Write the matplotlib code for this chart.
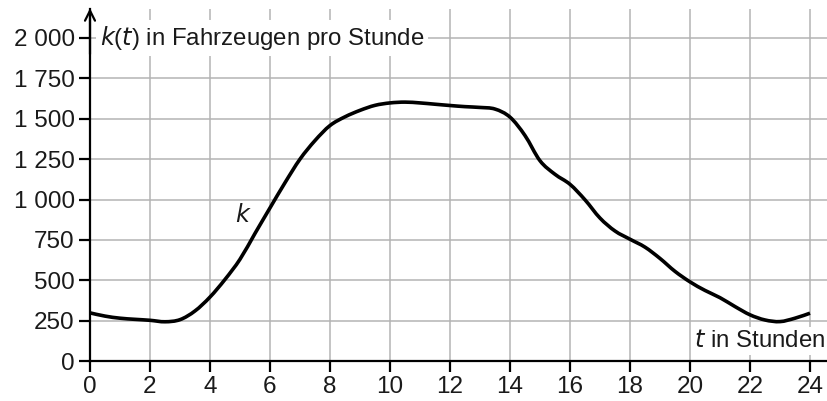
import matplotlib.pyplot as plt
from matplotlib.path import Path
from matplotlib.patches import PathPatch

# data
t_vals = [0, 0.5, 1, 1.5, 2, 2.5, 3, 3.5, 4, 4.5, 5, 5.5, 6, 6.5, 7, 7.5, 8, 8.5,
          9, 9.5, 10, 10.5, 11, 11.5, 12, 12.5, 13, 13.5, 14, 14.5, 15, 15.5, 16,
          16.5, 17, 17.5, 18, 18.5, 19, 19.5, 20, 20.5, 21, 21.5, 22, 22.5, 23,
          23.5, 24]
k_vals = [298, 278, 265, 258, 252, 243, 256, 310, 396, 505, 630, 790, 948, 1104,
          1250, 1365, 1458, 1512, 1552, 1583, 1598, 1603, 1598, 1590, 1582, 1575,
          1570, 1560, 1510, 1396, 1240, 1156, 1094, 998, 885, 805, 754, 705, 635,
          555, 490, 437, 392, 337, 286, 254, 244, 265, 296]
x_ticks = list(range(0, 25, 2))
y_ticks = [0, 250, 500, 750, 1000, 1250, 1500, 1750, 2000]
y_labels = ['0', '250', '500', '750', '1 000', '1 250', '1 500', '1 750', '2 000']


def smooth_path(xs, ys):
    # bezier segments through the points (catmull-rom tangents)
    verts = [(xs[0], ys[0])]
    codes = [Path.MOVETO]
    n = len(xs)
    for i in range(n - 1):
        x0, y0 = (xs[i - 1], ys[i - 1]) if i > 0 else (xs[i], ys[i])
        x1, y1 = xs[i], ys[i]
        x2, y2 = xs[i + 1], ys[i + 1]
        x3, y3 = (xs[i + 2], ys[i + 2]) if i + 2 < n else (x2, y2)
        verts += [(x1 + (x2 - x0) / 6, y1 + (y2 - y0) / 6),
                  (x2 - (x3 - x1) / 6, y2 - (y3 - y1) / 6),
                  (x2, y2)]
        codes += [Path.CURVE4] * 3
    return Path(verts, codes)


plt.rcParams['font.family'] = ['Liberation Sans', 'DejaVu Sans']

fig = plt.figure(figsize=(8.27, 4.01), dpi=100)
ax = fig.add_axes([90 / 827, 40 / 401, 737 / 827, 352 / 401])
ax.set_xlim(0, 737 / 30)
ax.set_ylim(0, 352 / 0.1615)

grid_col = '#b4b4b4'
for x in x_ticks[1:]:
    ax.axvline(x, color=grid_col, lw=1.1, zorder=1)
for y in y_ticks[1:]:
    ax.axhline(y, color=grid_col, lw=1.1, zorder=1)

curve = PathPatch(smooth_path(t_vals, k_vals), facecolor='none', edgecolor='black',
                  lw=2.6, zorder=3)
ax.add_patch(curve)

for s in ['top', 'right']:
    ax.spines[s].set_visible(False)
for s in ['left', 'bottom']:
    ax.spines[s].set_linewidth(1.6)
    ax.spines[s].set_zorder(4)

ax.set_xticks(x_ticks)
ax.set_yticks(y_ticks)
ax.set_yticklabels(y_labels)
ax.tick_params(direction='out', length=8, width=1.6, labelsize=17.5, pad=3,
               colors='black', labelcolor='#1a1a1a')

# arrow on the y axis
ax.annotate('', xy=(0, 352 / 0.1615 + 5), xytext=(0, 1900),
            arrowprops=dict(arrowstyle='->', lw=1.6, color='black',
                            mutation_scale=18, shrinkA=0, shrinkB=0),
            annotation_clip=False, zorder=5)

ax.text(0.33, 2000, r'$\mathit{k}$($\mathit{t}$) in Fahrzeugen pro Stunde',
        fontsize=17.3, ha='left', va='center', color='#1a1a1a', zorder=6,
        bbox=dict(facecolor='white', edgecolor='none', pad=3))
ax.text(24.5, 125, r'$\mathit{t}$ in Stunden', fontsize=17.3, ha='right', va='center',
        color='#1a1a1a', zorder=6,
        bbox=dict(facecolor='white', edgecolor='none', pad=2))
ax.text(5.1, 900, r'$\mathit{k}$', fontsize=17.3, ha='center', va='center',
        color='#1a1a1a', zorder=6)

fig.savefig('out.png', dpi=100)
